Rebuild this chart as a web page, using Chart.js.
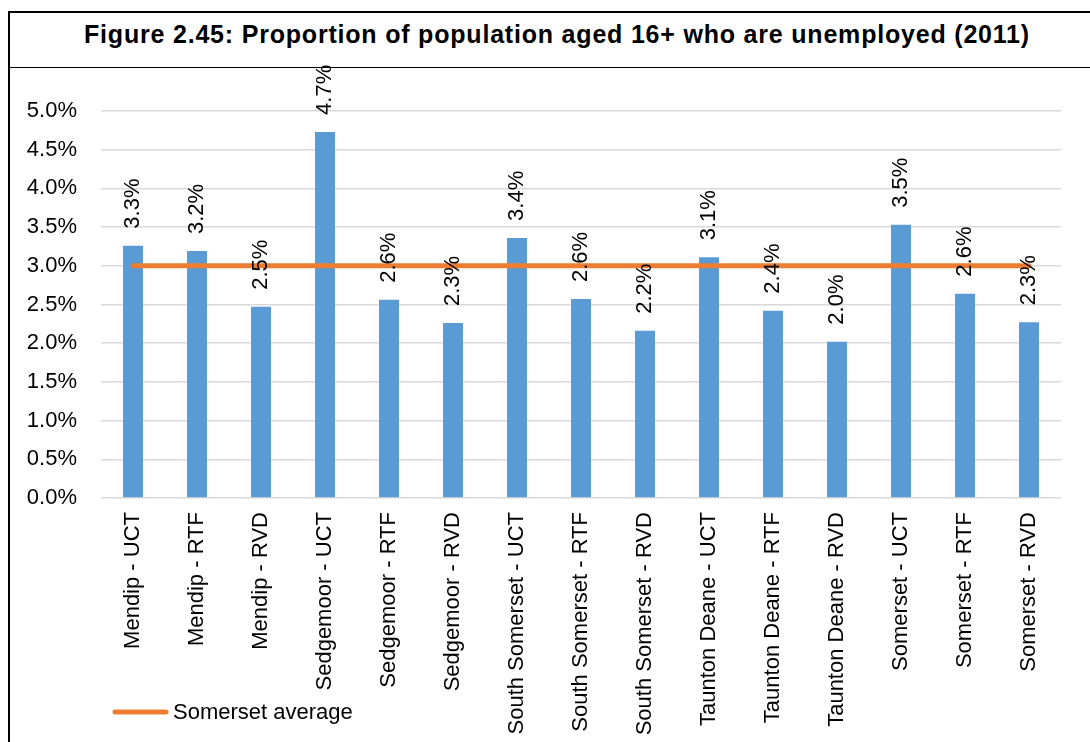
<!DOCTYPE html>
<html>
<head>
<meta charset="utf-8">
<script src="https://cdn.jsdelivr.net/npm/chart.js@4"></script>
<style>
  html, body { margin: 0; padding: 0; background: #fff; }
  body { width: 1090px; height: 742px; position: relative; overflow: hidden; font-family: "Liberation Sans", Arial, sans-serif; }
  .frame { position: absolute; left: 8px; top: 11px; width: 1092px; height: 800px; border-top: 2px solid #000; border-left: 2px solid #000; }
  .title-row { height: 54px; border-bottom: 1.5px solid #000; position: relative; }
  .title-row span { position: absolute; left: 74px; top: 7px; font-weight: bold; font-size: 25px; letter-spacing: 0.8px; color: #000; white-space: nowrap; }
  #chart { position: absolute; left: 0; top: 0; }
</style>
</head>
<body>
<div class="frame"><div class="title-row"><span>Figure 2.45: Proportion of population aged 16+ who are unemployed (2011)</span></div></div>
<canvas id="chart" width="1090" height="742"></canvas>
<script>
// Unemployment by area and settlement type, % of population aged 16+
const areas = [
    'Mendip - UCT', 'Mendip - RTF', 'Mendip - RVD',
    'Sedgemoor - UCT', 'Sedgemoor - RTF', 'Sedgemoor - RVD',
    'South Somerset - UCT', 'South Somerset - RTF', 'South Somerset - RVD',
    'Taunton Deane - UCT', 'Taunton Deane - RTF', 'Taunton Deane - RVD',
    'Somerset - UCT', 'Somerset - RTF', 'Somerset - RVD'
];
const unemployed = [
    3.26, 3.19, 2.47,
    4.73, 2.56, 2.26,
    3.36, 2.57, 2.16,
    3.11, 2.42, 2.02,
    3.53, 2.64, 2.27
];
const somersetAverage = 3.0;
const yTicks = [0, 0.5, 1, 1.5, 2, 2.5, 3, 3.5, 4, 4.5, 5];

const FONT = '"Liberation Sans", Arial, sans-serif';
const BLUE = '#5B9BD5';
const ORANGE = '#ED7D31';

const pct = v => v.toFixed(1) + '%';

// vertical value labels above each bar
const barLabels = {
    id: 'barLabels',
    afterDatasetsDraw(chart) {
        const ctx = chart.ctx;
        const meta = chart.getDatasetMeta(0);
        ctx.save();
        ctx.font = '22px ' + FONT;
        ctx.fillStyle = '#000';
        ctx.textAlign = 'left';
        ctx.textBaseline = 'middle';
        meta.data.forEach((bar, i) => {
            ctx.save();
            ctx.translate(bar.x, bar.y - 17);
            ctx.rotate(-Math.PI / 2);
            ctx.fillText(pct(unemployed[i]), 0, 0);
            ctx.restore();
        });
        ctx.restore();
    }
};

// legend entry for the average line, bottom left
const avgLegend = {
    id: 'avgLegend',
    afterDraw(chart) {
        const ctx = chart.ctx;
        const ds = chart.data.datasets[1];
        ctx.save();
        ctx.strokeStyle = ds.borderColor;
        ctx.lineWidth = 5;
        ctx.lineCap = 'round';
        ctx.beginPath();
        ctx.moveTo(115, 712);
        ctx.lineTo(166, 712);
        ctx.stroke();
        ctx.font = '22px ' + FONT;
        ctx.fillStyle = '#000';
        ctx.textBaseline = 'middle';
        ctx.fillText(ds.label, 173, 713);
        ctx.restore();
    }
};

new Chart(document.getElementById('chart'), {
    data: {
        labels: areas,
        datasets: [{
            type: 'bar',
            label: 'Unemployed',
            data: unemployed,
            backgroundColor: BLUE,
            categoryPercentage: 1,
            barPercentage: 0.3125,
            order: 1
        }, {
            type: 'line',
            label: 'Somerset average',
            data: areas.map(() => somersetAverage),
            borderColor: ORANGE,
            borderWidth: 5,
            borderCapStyle: 'round',
            pointRadius: 0,
            order: 0
        }]
    },
    options: {
        responsive: false,
        animation: false,
        events: [],
        layout: { padding: { left: 11, right: 29, top: 111, bottom: 0 } },
        plugins: {
            legend: { display: false },
            tooltip: { enabled: false }
        },
        scales: {
            x: {
                grid: { display: false },
                border: { display: false },
                ticks: {
                    font: { family: FONT, size: 22 },
                    color: '#000',
                    maxRotation: 90,
                    minRotation: 90,
                    autoSkip: false,
                    padding: 6
                },
                afterFit: s => { s.height = 244; }
            },
            y: {
                min: 0,
                max: 5,
                afterBuildTicks: s => { s.ticks = yTicks.map(v => ({ value: v })); },
                grid: { color: '#D9D9D9', lineWidth: 1.5, drawTicks: false },
                border: { display: false },
                ticks: {
                    font: { family: FONT, size: 22 },
                    color: '#000',
                    padding: 24,
                    callback: v => pct(v)
                },
                afterFit: s => { s.width = 90; }
            }
        }
    },
    plugins: [barLabels, avgLegend]
});
</script>
</body>
</html>
